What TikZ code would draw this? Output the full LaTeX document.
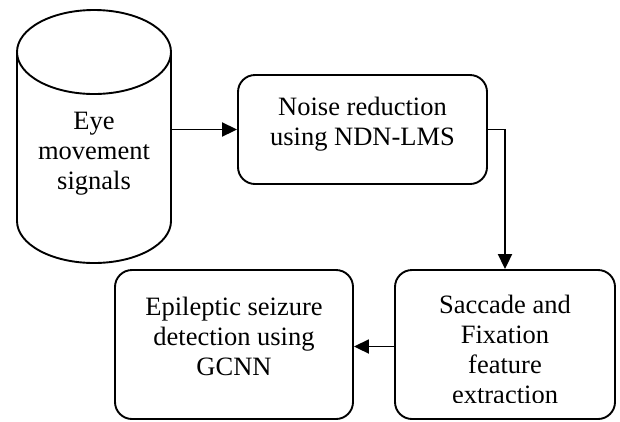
\documentclass[tikz,border=0pt]{standalone}
\usepackage{fontspec}
\setmainfont{Liberation Serif}
\usetikzlibrary{arrows.meta}
\begin{document}
\begin{tikzpicture}[x=1bp,y=-1bp,
  ln/.style={line width=1.9bp},
  boxnode/.style={ln, draw, rounded corners=17bp, inner sep=0pt},
  txt/.style={font=\fontsize{26.5bp}{30bp}\selectfont, align=center, inner sep=0pt},
  arr/.style={ln, -{Triangle[length=15bp,width=14bp]}}]
\useasboundingbox (0,0) rectangle (620,421);
% cylinder
\draw[ln] (94,52) ellipse [x radius=77bp, y radius=42bp];
\draw[ln] (17,52) -- (17,221) arc[start angle=180, end angle=360, x radius=77bp, y radius=42bp] -- (171,52);
\node[minimum width=154bp, minimum height=253bp, inner sep=0pt] (cyl) at (94,136.5) {};
\node[txt] (cyltxt) at (94,154) {Eye\\movement\\signals};
% boxes
\node[boxnode, minimum width=249bp, minimum height=109bp] (noise) at (362.5,129.5) {};
\node[txt] (noisetxt) at (362.5,124) {Noise reduction\\using NDN-LMS};
\node[boxnode, minimum width=238bp, minimum height=149bp] (epi) at (234,344.5) {};
\node[txt] (epitxt) at (234,336) {Epileptic seizure\\detection using\\GCNN};
\node[boxnode, minimum width=220bp, minimum height=149bp] (sac) at (505,344.5) {};
\begin{scope}
\clip (380,260) rectangle (620,402);
\node[txt] (sactxt) at (505,349) {Saccade and\\Fixation\\feature\\extraction};
\end{scope}
% connectors
\draw[arr] (cyl.east |- noise.west) -- (noise.west);
\draw[arr] (noise.east) -| (sac.north);
\draw[arr] ([yshift=-2bp]sac.west) -- ([yshift=-2bp]epi.east);
\end{tikzpicture}
\end{document}
